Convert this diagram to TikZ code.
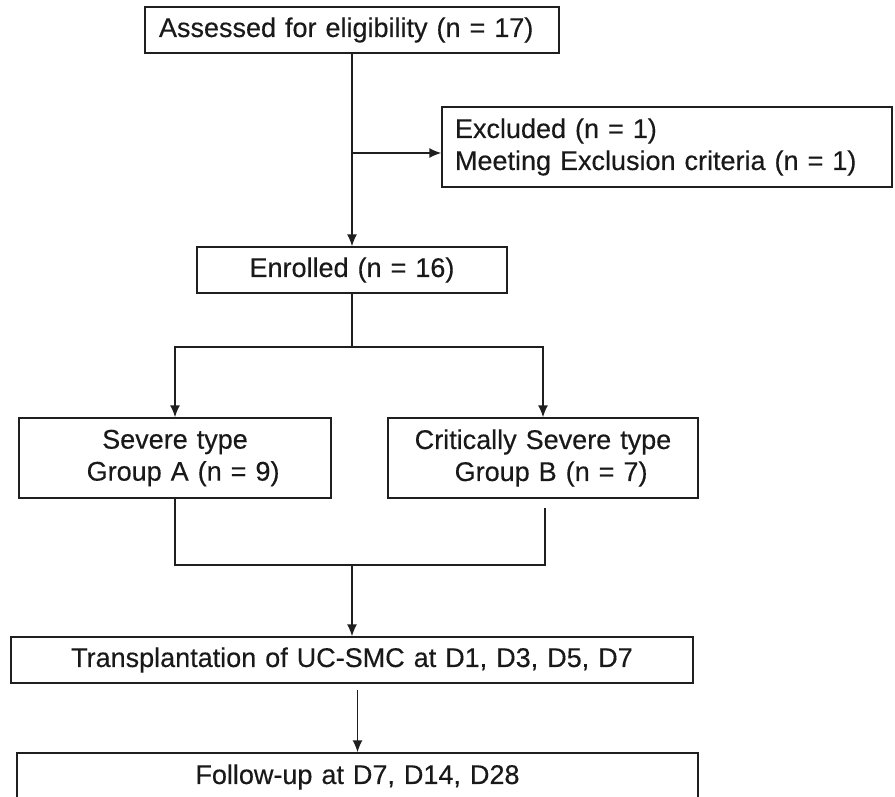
\documentclass[tikz,border=0pt]{standalone}
\usepackage{fontspec}
\setmainfont{Liberation Sans}
\newfontfamily\figfont[FakeBold=0.35]{Liberation Sans}
\usetikzlibrary{arrows.meta,calc}
\tikzset{
  box/.style={draw=black!88, line width=1.4pt, inner ysep=0pt, inner xsep=5pt, align=center,
    font=\figfont\fontsize{27}{32}\selectfont, text=black!90},
  link/.style={draw=black!88, line width=1.4pt},
  arr/.style={link, -{Latex[length=12pt,width=10pt]}}
}
\begin{document}
\begin{tikzpicture}[x=1pt,y=-1pt]
\useasboundingbox (0,0) rectangle (895,796);
\clip (0,0) rectangle (895,796);
\node[box, align=left, inner xsep=14pt, text width=386pt, minimum height=46pt] (assess) at (352,30) {Assessed for eligibility (n = 17)};
\node[box, align=left, inner xsep=13pt, text width=424pt, minimum height=80pt] (excl) at (667,147) {Excluded (n = 1)\\Meeting Exclusion criteria (n = 1)};
\node[box, text width=300pt, minimum height=46pt] (enrol) at (352,270) {Enrolled (n = 16)};
\node[box, text width=302pt, minimum height=80pt] (ga) at (175,458) {Severe type\\\hspace*{0.6em}Group A (n = 9)};
\node[box, text width=300pt, minimum height=80pt] (gb) at (543,458) {Critically Severe type\\\hspace*{0.6em}Group B (n = 7)};
\node[box, text width=672pt, minimum height=46pt] (trans) at (352,660) {Transplantation of UC-SMC at D1, D3, D5, D7};
\node[box, text width=671pt, minimum height=48pt] (follow) at (357.5,777) {Follow-up at D7, D14, D28};
\coordinate (b1) at (352,153);
\coordinate (split) at (352,347);
\coordinate (merge) at (352,565);
\draw[arr] (assess.south) -- (enrol.north);
\draw[arr] (b1) -- (b1 -| excl.west);
\draw[link] (enrol.south) -- (split);
\draw[arr] (split) -| (ga.north);
\draw[arr] (split) -| (gb.north);
\draw[link] (ga.south) |- (merge) -| ($(gb.south)+(2,9)$);
\draw[arr] (merge) -- (trans.north);
\draw[arr] ($(follow.north |- trans.south)+(0,6)$) -- (follow.north);
\end{tikzpicture}
\end{document}
